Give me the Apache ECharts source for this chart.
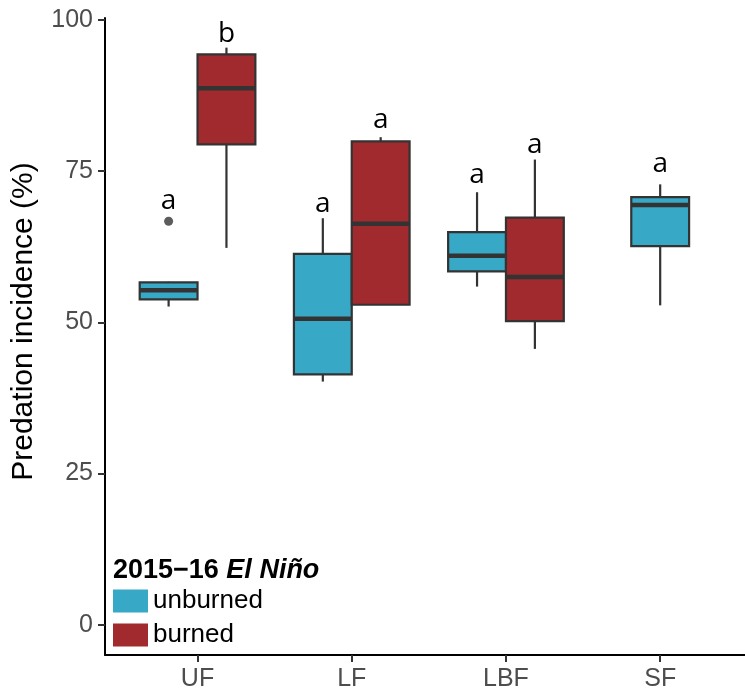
<!DOCTYPE html>
<html><head><meta charset="utf-8">
<script src="https://cdn.jsdelivr.net/npm/echarts@6/dist/echarts.min.js"></script>
<style>html,body{margin:0;padding:0;background:#fff}#c{width:745px;height:696px}</style>
</head><body><div id="c"></div>
<script>
const categories = ['UF', 'LF', 'LBF', 'SF'];
const yTicks = [0, 25, 50, 75, 100];
// five-number summaries [min, q1, median, q3, max]; null = group absent
const unburned = [
  [52.6, 53.8, 55.3, 56.6, 56.7],
  [40.2, 41.4, 50.6, 61.3, 67.2],
  [55.9, 58.4, 61.0, 64.9, 71.5],
  [52.8, 62.6, 69.4, 70.7, 72.8]
];
const burned = [
  [62.3, 79.4, 88.7, 94.3, 95.4],
  [52.9, 52.9, 66.3, 79.9, 80.6],
  [45.6, 50.2, 57.5, 67.3, 76.9],
  null
];
const unburnedOutliers = [[0, 66.7]]; // [category index, value]
const burnedOutliers = [];
const unburnedLetters = ['a', 'a', 'a', 'a'];
const burnedLetters = ['b', 'a', 'a', null];
const unburnedLetterY = [70.1, 69.5, 74.3, 76.1];
const burnedLetterY = [97.7, 83.4, 79.3, null];

const COLORS = { unburned: '#37a9c7', burned: '#a02a2d' };
const STROKE = '#333333';
const BOXW = 0.375;
const FONT = '"Liberation Sans", Arial, sans-serif';

function dodge(key, i) {
  const both = unburned[i] && burned[i];
  if (!both) return 0;
  return key === 'unburned' ? -BOXW / 2 : BOXW / 2;
}

function makeBoxSeries(key, stats, letters, letterY) {
  const data = [];
  stats.forEach((s, i) => {
    if (s) data.push([i + 1, s[0], s[1], s[2], s[3], s[4], letterY[i]]);
  });
  return {
    name: key,
    type: 'custom',
    itemStyle: { color: COLORS[key] },
    data: data,
    z: 3,
    renderItem: function (params, api) {
      const cat = api.value(0);
      const i = cat - 1;
      const xc = cat + dodge(key, i);
      const c = (v) => api.coord([xc, v]);
      const pMin = c(api.value(1)), pQ1 = c(api.value(2)), pMed = c(api.value(3)),
            pQ3 = c(api.value(4)), pMax = c(api.value(5));
      const left = api.coord([xc - BOXW / 2, 0])[0];
      const right = api.coord([xc + BOXW / 2, 0])[0];
      const lt = c(api.value(6));
      const children = [
        { type: 'line', shape: { x1: pMax[0], y1: pMax[1], x2: pQ3[0], y2: pQ3[1] },
          style: { stroke: STROKE, lineWidth: 2.2 } },
        { type: 'line', shape: { x1: pQ1[0], y1: pQ1[1], x2: pMin[0], y2: pMin[1] },
          style: { stroke: STROKE, lineWidth: 2.2 } },
        { type: 'rect', shape: { x: left, y: pQ3[1], width: right - left, height: pQ1[1] - pQ3[1] },
          style: { fill: COLORS[key], stroke: STROKE, lineWidth: 2.2 } },
        { type: 'line', shape: { x1: left, y1: pMed[1], x2: right, y2: pMed[1] },
          style: { stroke: STROKE, lineWidth: 4.5 } }
      ];
      if (letters[i]) {
        children.push({ type: 'text', x: lt[0], y: lt[1],
          style: { text: letters[i], fill: '#000', fontSize: 28, fontFamily: '"Open Sans", sans-serif',
                   align: 'center', verticalAlign: 'middle' } });
      }
      return { type: 'group', children: children };
    }
  };
}

function outlierData(key, list) {
  return list.map(o => [o[0] + 1 + dodge(key, o[0]), o[1]]);
}

const chart = echarts.init(document.getElementById('c'), null, { renderer: 'canvas' });
chart.setOption({
  backgroundColor: '#fff',
  animation: false,
  title: {
    text: '{b|2015\u221216 }{bi|El Niño}',
    left: 108, top: 552,
    textStyle: {
      rich: {
        b: { fontSize: 27, fontWeight: 'bold', fontFamily: FONT, color: '#000' },
        bi: { fontSize: 27, fontWeight: 'bold', fontStyle: 'italic', fontFamily: FONT, color: '#000' }
      }
    }
  },
  legend: {
    data: ['unburned', 'burned'],
    orient: 'vertical',
    left: 113, top: 588,
    icon: 'rect',
    itemWidth: 35, itemHeight: 23, itemGap: 8,
    padding: 0,
    textStyle: { fontSize: 26, fontFamily: FONT, color: '#000' }
  },
  grid: { left: 105, right: 0, top: 18, bottom: 41 },
  xAxis: {
    type: 'value', min: 0.4, max: 4.55,
    splitLine: { show: false },
    axisLine: { onZero: false, lineStyle: { color: '#000', width: 2 } },
    axisTick: { customValues: [1, 2, 3, 4], length: 7, lineStyle: { color: '#333', width: 2 } },
    axisLabel: {
      customValues: [1, 2, 3, 4],
      formatter: v => categories[Math.round(v) - 1],
      fontSize: 25, color: '#4d4d4d', fontFamily: FONT, margin: 12
    }
  },
  yAxis: {
    type: 'value', min: -5, max: 100.3,
    name: 'Predation incidence (%)',
    nameLocation: 'middle', nameGap: 66,
    nameTextStyle: { fontSize: 30, color: '#000', fontFamily: FONT, padding: [0, 0, 0, 30] },
    splitLine: { show: false },
    axisLine: { onZero: false, lineStyle: { color: '#000', width: 2 } },
    axisTick: { customValues: yTicks, length: 7, lineStyle: { color: '#333', width: 2 } },
    axisLabel: {
      customValues: yTicks,
      fontSize: 25, color: '#4d4d4d', fontFamily: FONT, margin: 12
    }
  },
  series: [
    makeBoxSeries('unburned', unburned, unburnedLetters, unburnedLetterY),
    makeBoxSeries('burned', burned, burnedLetters, burnedLetterY),
    { type: 'scatter', name: 'unburned-outliers', data: outlierData('unburned', unburnedOutliers),
      symbolSize: 9, itemStyle: { color: STROKE }, z: 4 },
    { type: 'scatter', name: 'burned-outliers', data: outlierData('burned', burnedOutliers),
      symbolSize: 9, itemStyle: { color: STROKE }, z: 4 }
  ]
});
</script>
</body></html>
